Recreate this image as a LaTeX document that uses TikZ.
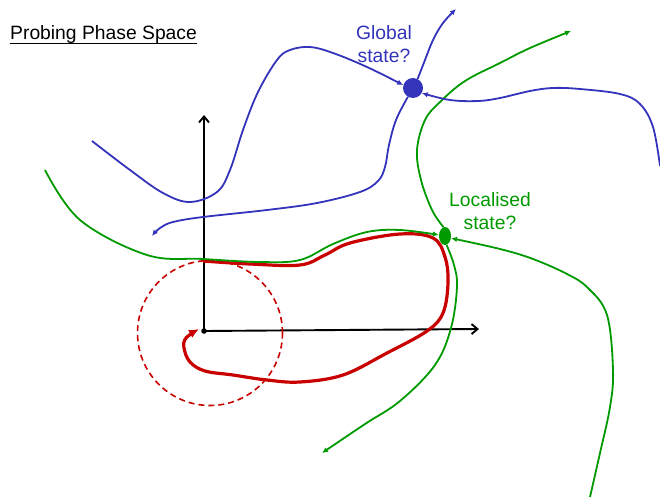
\documentclass[tikz,border=0pt]{standalone}
\usepackage{fontspec}
\setmainfont{Liberation Sans}
\usetikzlibrary{arrows.meta,shapes.geometric}
\definecolor{gb}{RGB}{51,51,187}
\definecolor{gg}{RGB}{0,153,0}
\definecolor{rr}{RGB}{200,0,0}
\begin{document}
\begin{tikzpicture}[x=1pt,y=-1pt,
  bluec/.style={draw=gb,line width=1.8pt,-{Latex[length=6pt,width=5.5pt]}},
  greenc/.style={draw=gg,line width=1.8pt,-{Latex[length=6pt,width=5.5pt]}},
  redc/.style={draw=rr,line width=3.2pt,-{Latex[length=10pt,width=9pt]}},
  axis/.style={draw=black,line width=1.9pt,-{Straight Barb[length=6pt,width=10pt]}},
  lbl/.style={font=\fontsize{19.3}{23}\selectfont,align=center,inner sep=0pt},
  sm/.style={smooth,tension=0.6}]
\useasboundingbox (0,0) rectangle (660,500);

% title
\node[lbl,anchor=base west] (title) at (10,40) {Probing Phase Space};
\draw[line width=1.3pt] ([yshift=-3.5pt]title.base west) -- ([yshift=-3.5pt]title.base east);

% dots and labels
\node[circle,fill=gb,minimum size=20pt,inner sep=0pt] (gs) at (413,88) {};
\node[ellipse,fill=gg,minimum width=12pt,minimum height=18pt,inner sep=0pt] (ls) at (445,236) {};
\node[lbl,text=gb] (glab) at (384,44) {Global\\state?};
\node[lbl,text=gg] (llab) at (490,211) {Localised\\state?};

% axes
\coordinate (O) at (204,331);
\coordinate (ytop) at (204,115);
\coordinate (xend) at (479,329);
\draw[axis] (O) -- (ytop);
\draw[axis] (O) -- (xend);
\fill (O) circle (2.8pt);

% dashed circle
\draw[rr,line width=1.6pt,dash pattern=on 6pt off 4pt] (210,333) circle (72.5pt);

% red trajectory
\coordinate (rs) at (203,261);
\coordinate (re) at (199,329);
\draw[redc] plot[sm] coordinates {(rs) (250,264) (300,265) (325,255) (350,243) (400,234) (433,238) (445,257) (448,283) (443,313) (427,331) (387,353) (343,375) (300,382) (267,380) (233,375) (205,371) (190,362) (184,348) (186,338) (re)};

% green curves
\coordinate (g1s) at (45,170);
\draw[greenc] plot[sm] coordinates {(g1s) (80,220) (147,255) (203,259) (260,262) (300,260) (333,244) (367,232) (400,230) (ls.170)};
\coordinate (g2e) at (571,31);
\draw[greenc] plot[sm] coordinates {(ls.100) (432,210) (421,180) (417,150) (425,120) (440,102) (465,81) (500,63) (530,48) (g2e)};
\coordinate (g3e) at (322,453);
\draw[greenc] plot[sm] coordinates {(ls.280) (454,265) (457,287) (451,328) (435,365) (400,401) (365,424) (g3e)};
\coordinate (g4s) at (590,497);
\draw[greenc] plot[sm] coordinates {(g4s) (600,453) (610,407) (613,370) (607,315) (588,288) (567,274) (533,259) (500,249) (ls.340)};

% blue curves
\coordinate (b1e) at (456,9);
\draw[bluec] plot[sm] coordinates {(gs.63) (425,60) (433,40) (443,23) (b1e)};
\coordinate (b2s) at (92,141);
\draw[bluec] plot[sm] coordinates {(b2s) (130,170) (163,193) (190,202) (217,192) (230,170) (243,130) (258,92) (277,60) (290,50) (310,47) (333,53) (367,67) (gs.163)};
\coordinate (b3s) at (660,166);
\draw[bluec] plot[sm] coordinates {(b3s) (653,127) (640,104) (620,94) (580,89) (553,88) (530,91) (500,98) (478,101) (450,100) (gs.330)};
\coordinate (b4e) at (152,236);
\draw[bluec] plot[sm] coordinates {(gs.240) (396,120) (389,145) (385,167) (378,181) (360,192) (317,203) (267,210) (203,217) (173,222) (160,228) (b4e)};
\end{tikzpicture}
\end{document}
